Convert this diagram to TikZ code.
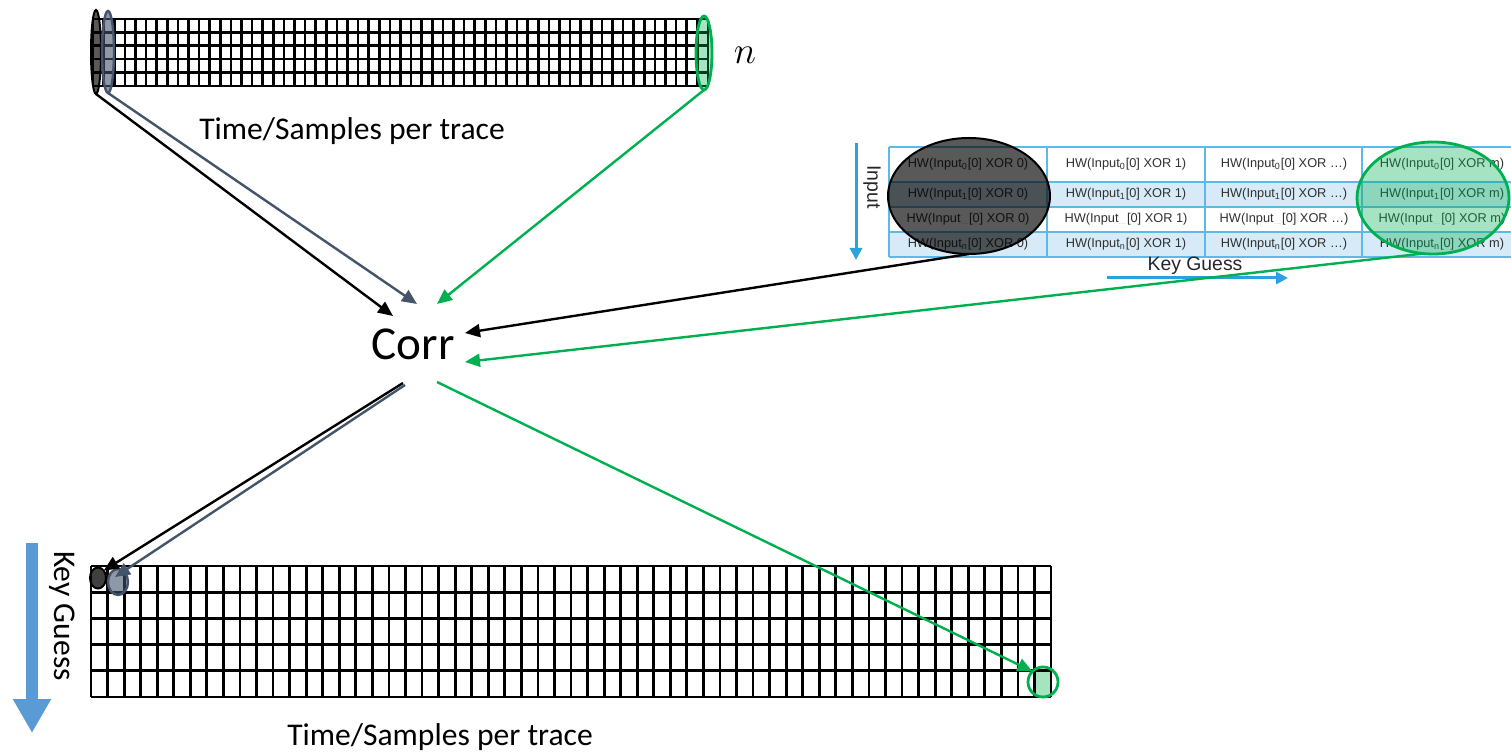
\RequirePackage{fix-cm}
\documentclass[tikz,border=0pt]{standalone}
\usepackage{fontspec}
\setmainfont{Carlito}
\newfontfamily\arialf{Liberation Sans}
\usetikzlibrary{arrows.meta,shapes.geometric}

\definecolor{slate}{HTML}{44546A}
\definecolor{okgreen}{HTML}{00B050}
\definecolor{lightgreen}{HTML}{A6E4C0}
\definecolor{cellline}{HTML}{5DB9E8}
\definecolor{cellfill}{HTML}{D6EBF7}
\definecolor{axisblue}{HTML}{29A3DD}
\definecolor{bigblue}{HTML}{5B9BD5}
\definecolor{celltext}{HTML}{303030}

\begin{document}
\begin{tikzpicture}[x=0.5pt,y=-0.5pt,
  gridline/.style={line width=1.3pt,black},
  biggrid/.style={line width=1.4pt,black},
  conn/.style={line width=1.2pt,-{Triangle[length=7.5pt,width=6.5pt]}},
  axisarrow/.style={line width=1.5pt,axisblue,-{Triangle[length=6pt,width=6pt]}},
  sel/.style={ellipse,inner sep=0pt,outer sep=0pt},
  blacksel/.style={sel,draw=black,line width=1pt,fill=black,fill opacity=0.65},
  slatesel/.style={sel,draw=slate,line width=1.2pt,fill=slate,fill opacity=0.6},
  greensel/.style={sel,draw=okgreen,line width=1.4pt,fill=okgreen,fill opacity=0.35},
  greenring/.style={sel,draw=okgreen,line width=1.4pt},
  celltxt/.style={font=\arialf\fontsize{6.4}{7.5}\selectfont,text=celltext,inner sep=0pt},
  bigtxt/.style={font=\fontsize{15.8}{19}\selectfont},
]
\useasboundingbox (0,0) rectangle (1511,753);
\clip (0,0) rectangle (1511,753);

% ---------- top trace grid: 58 samples x 5 traces ----------
\foreach \i in {0,...,58}
  \draw[gridline] ({93+\i*10.6034},19) -- ({93+\i*10.6034},86);
\foreach \j in {0,...,5}
  \draw[gridline] (93,{19+\j*13.4}) -- (708,{19+\j*13.4});

\node[blacksel,minimum width=5pt,minimum height=42pt] (tb) at (96,52) {};
\node[slatesel,minimum width=6pt,minimum height=41pt] (ts) at (108,52) {};
\node[greensel,minimum width=8pt,minimum height=37pt] (tg) at (704,53) {};

\node[font=\fontsize{19}{22}\selectfont] (nlab) at (745,55) {$n$};
\node[bigtxt] (toplab) at (352,131) {Time/Samples per trace};

% ---------- hypothesis table ----------
\fill[cellfill] (889,182) rectangle (1520,207);
\fill[cellfill] (889,232) rectangle (1520,257);
\foreach \y in {147,182,207,232,257}
  \draw[cellline,line width=0.8pt] (889,\y) -- (1520,\y);
\foreach \x in {889,1047,1205,1362,1520}
  \draw[cellline,line width=0.8pt] (\x,147) -- (\x,257);

\foreach \r/\sub/\ym in {0/0/164.5, 1/1/194.5, 2/{\textcolor{gray!40}{...}}/219.5, 3/n/244.5}
  \foreach \c/\k in {0/0, 1/1, 2/…, 3/m}
    \node[celltxt] (cell-\r-\c) at ({968+158*\c},\ym) {HW(Input\textsubscript{\sub}[0] XOR \k)};

\node[blacksel,minimum width=81pt,minimum height=58pt] (kb) at (969,196) {};
\node[greensel,minimum width=76pt,minimum height=56pt] (kg) at (1433,198) {};

\node[font=\arialf\fontsize{9.7}{11}\selectfont,rotate=-90,text=black!85] (inlab) at (872,187) {Input};
\coordinate (ina) at (856,143);
\coordinate (inb) at (856,260);
\draw[axisarrow] (ina) -- (inb);

\node[font=\arialf\fontsize{9.7}{11}\selectfont,text=black!85] (kglab) at (1195,266) {Key Guess};
\coordinate (kga) at (1107,278);
\coordinate (kgb) at (1288,278);
\draw[axisarrow] (kga) -- (kgb);

% ---------- correlation ----------
\node[font=\fontsize{23.6}{28}\selectfont] (corr) at (413,344) {Corr};

\coordinate (inTB) at (393,316);
\coordinate (inTS) at (417,304);
\coordinate (inTG) at (437,304);
\coordinate (inKB) at (465,333);
\coordinate (inKG) at (465,362);
\coordinate (outB) at (403,383);
\coordinate (outS) at (405,385);
\coordinate (outG) at (437,382);

% ---------- result grid: 58 samples x 5 key guesses ----------
\fill[lightgreen] ({91+57*16.5517},{566+4*26.2}) rectangle (1051,697);
\foreach \i in {0,...,58}
  \draw[biggrid] ({91+\i*16.5517},566) -- ({91+\i*16.5517},697);
\foreach \j in {0,...,5}
  \draw[biggrid] (91,{566+\j*26.2}) -- (1051,{566+\j*26.2});

\node[blacksel,fill opacity=0.75,minimum width=8pt,minimum height=10.5pt] (bb) at (98,578) {};
\node[slatesel,minimum width=10pt,minimum height=13pt] (bs) at (118,582) {};
\node[greenring,minimum width=15pt,minimum height=15pt] (bg) at (1043,682) {};

\node[bigtxt] (botlab) at (440,737) {Time/Samples per trace};
\node[bigtxt,rotate=-90] (kgv) at (62,616) {Key Guess};
\coordinate (kva) at (32,543);
\coordinate (kvb) at (32,733);
\draw[bigblue,line width=6pt,-{Triangle[length=17pt,width=18pt]}] (kva) -- (kvb);

% ---------- connectors ----------
\draw[conn,black] (tb.south) -- (inTB);
\draw[conn,slate] (ts.south) -- (inTS);
\draw[conn,okgreen] (tg.south) -- (inTG);
\draw[conn,black] (kb.south) -- (inKB);
\draw[conn,okgreen] (kg.-100) -- (inKG);
\draw[conn,black] (outB) -- (bb.north east);
\draw[conn,slate] (outS) -- ([shift={(-3,-5)}]bs.center);
\draw[conn,okgreen] (outG) -- (bg.north west);
\end{tikzpicture}
\end{document}
